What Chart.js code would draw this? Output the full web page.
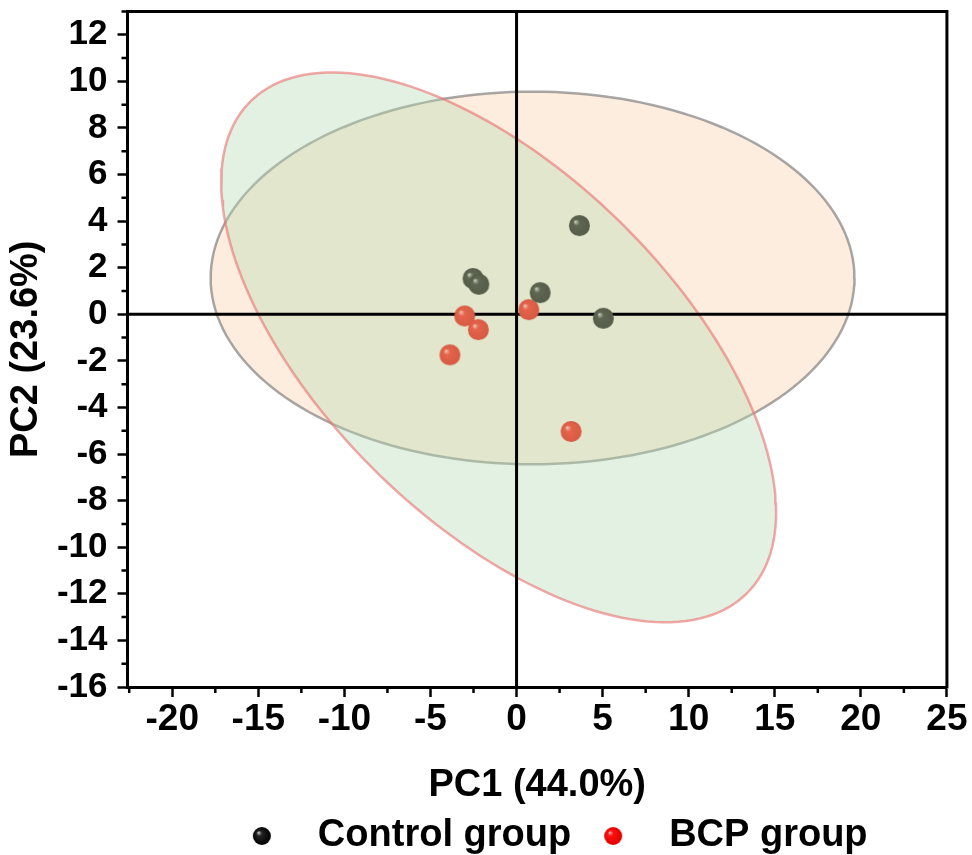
<!DOCTYPE html>
<html>
<head>
<meta charset="utf-8">
<title>PCA</title>
<script src="https://cdn.jsdelivr.net/npm/chart.js@4.4.1/dist/chart.umd.min.js"></script>
<style>
  html, body { margin: 0; padding: 0; background: #fff; }
</style>
</head>
<body>
<canvas id="pcaChart" width="972" height="855"></canvas>
<script>
// scores
var controlPC1 = [3.65, -2.53, -2.19, 1.37, 5.04];
var controlPC2 = [3.81, 1.54, 1.29, 0.93, -0.17];
var bcpPC1 = [-3.01, -2.22, -3.87, 0.71, 3.17];
var bcpPC2 = [-0.07, -0.66, -1.74, 0.20, -5.03];

// confidence ellipses: centre x, centre y, semi axis 1, semi axis 2, rotation (deg)
var controlEllipse = [0.93, 1.56, 18.7, 8.0, 0];
var bcpEllipse = [-1.04, -1.42, 18.13, 8.39, -31.1];

var groupNames = ["Control group", "BCP group"];
var xTicks = [-20, -15, -10, -5, 0, 5, 10, 15, 20, 25];
var yTicks = [-16, -14, -12, -10, -8, -6, -4, -2, 0, 2, 4, 6, 8, 10, 12];
var xTitle = "PC1 (44.0%)";
var yTitle = "PC2 (23.6%)";

var FONT = "'Liberation Sans', Arial, sans-serif";

function toPoints(xs, ys) {
  var out = [];
  for (var i = 0; i < xs.length; i++) out.push({x: xs[i], y: ys[i]});
  return out;
}

function ellipsePoints(e) {
  var pts = [];
  var rad = e[4] * Math.PI / 180;
  for (var i = 0; i <= 180; i++) {
    var t = i / 180 * 2 * Math.PI;
    var dx = e[2] * Math.cos(t), dy = e[3] * Math.sin(t);
    pts.push({
      x: e[0] + dx * Math.cos(rad) - dy * Math.sin(rad),
      y: e[1] + dx * Math.sin(rad) + dy * Math.cos(rad)
    });
  }
  return pts;
}

// little shaded ball used as marker
function sphere(r, light, base, edge) {
  var c = document.createElement('canvas');
  c.width = c.height = 2 * r + 2;
  var g = c.getContext('2d');
  var cx = r + 1, cy = r + 1;
  var grad = g.createRadialGradient(cx - r * 0.4, cy - r * 0.4, 0, cx, cy, r);
  grad.addColorStop(0, light);
  grad.addColorStop(0.3, base);
  grad.addColorStop(1, edge);
  g.fillStyle = grad;
  g.beginPath();
  g.arc(cx, cy, r, 0, 2 * Math.PI);
  g.fill();
  return c;
}

var controlBall = sphere(10.5, '#d2d6c4', '#5f6752', '#555c49');
var bcpBall = sphere(10.5, '#f3cdb8', '#e4644c', '#d85a43');
var controlKey = sphere(9, '#d0d0d0', '#222', '#000');
var bcpKey = sphere(9, '#ffc0c0', '#ff1010', '#e00000');

function setTicks(values) {
  return function (scale) {
    scale.ticks = values.map(function (v) { return {value: v}; });
  };
}

// zero lines go above the ellipses but under the balls
var zeroLines = {
  id: 'zeroLines',
  beforeDatasetDraw: function (chart, args) {
    if (args.index !== 1) return;
    var ctx = chart.ctx, a = chart.chartArea;
    var px = chart.scales.x.getPixelForValue(0);
    var py = chart.scales.y.getPixelForValue(0);
    ctx.save();
    ctx.strokeStyle = '#000';
    ctx.lineWidth = 3;
    ctx.beginPath();
    ctx.moveTo(px, a.top); ctx.lineTo(px, a.bottom);
    ctx.moveTo(a.left, py); ctx.lineTo(a.right, py);
    ctx.stroke();
    ctx.restore();
  }
};

// minor ticks + top/right frame
var frameTicks = {
  id: 'frameTicks',
  afterLayout: function (chart) {
    // legend sits a bit right of the plot centre in the original
    chart.legend.left += 9;
    chart.legend.right += 9;
  },
  afterDraw: function (chart) {
    var ctx = chart.ctx, a = chart.chartArea;
    var xs = chart.scales.x, ys = chart.scales.y;
    ctx.save();
    ctx.strokeStyle = '#000';
    ctx.lineWidth = 2.5;
    ctx.beginPath();
    for (var v = -22.5; v <= xs.max; v += 5) {
      var px = xs.getPixelForValue(v);
      ctx.moveTo(px, a.bottom); ctx.lineTo(px, a.bottom + 6);
    }
    for (var w = -15; w <= ys.max; w += 2) {
      var py = ys.getPixelForValue(w);
      ctx.moveTo(a.left, py); ctx.lineTo(a.left - 6, py);
    }
    ctx.stroke();
    ctx.lineWidth = 3;
    ctx.beginPath();
    ctx.moveTo(a.left - 1.5, a.top);
    ctx.lineTo(a.right, a.top);
    ctx.lineTo(a.right, a.bottom + 1.5);
    ctx.stroke();
    ctx.restore();
  }
};

var ctx = document.getElementById('pcaChart').getContext('2d');
var chart = new Chart(ctx, {
  type: 'scatter',
  data: {
    datasets: [
      {
        label: groupNames[0],
        data: toPoints(controlPC1, controlPC2),
        pointStyle: controlBall,
        pointRadius: 10
      },
      {
        label: groupNames[1],
        data: toPoints(bcpPC1, bcpPC2),
        pointStyle: bcpBall,
        pointRadius: 10
      },
      {
        type: 'line',
        label: 'bcp ellipse',
        data: ellipsePoints(bcpEllipse),
        pointRadius: 0,
        tension: 0,
        borderColor: 'rgba(235,110,110,0.6)',
        borderWidth: 2.5,
        backgroundColor: 'rgba(180,217,177,0.38)',
        fill: 'shape'
      },
      {
        type: 'line',
        label: 'control ellipse',
        data: ellipsePoints(controlEllipse),
        pointRadius: 0,
        tension: 0,
        borderColor: 'rgba(110,110,110,0.6)',
        borderWidth: 2.5,
        backgroundColor: 'rgba(250,207,172,0.38)',
        fill: 'shape'
      }
    ]
  },
  options: {
    responsive: false,
    animation: false,
    layout: { padding: { top: 11.5, right: 24, left: 0, bottom: 0 } },
    plugins: {
      tooltip: { enabled: false },
      legend: {
        position: 'bottom',
        fullSize: false,
        maxHeight: 43,
        labels: {
          usePointStyle: true,
          pointStyleWidth: 74,
          padding: 5,
          color: '#000',
          font: { family: FONT, size: 38, weight: 'bold' },
          generateLabels: function () {
            return [
              { text: groupNames[0], pointStyle: controlKey, fillStyle: '#000', strokeStyle: '#000', lineWidth: 0, hidden: false, datasetIndex: 0 },
              { text: groupNames[1], pointStyle: bcpKey, fillStyle: '#f00', strokeStyle: '#f00', lineWidth: 0, hidden: false, datasetIndex: 1 }
            ];
          }
        }
      }
    },
    scales: {
      x: {
        type: 'linear',
        min: -22.6,
        max: 25,
        afterBuildTicks: setTicks(xTicks),
        afterFit: function (scale) {
          scale.height = 125;
          scale.paddingTop = 0; scale.paddingBottom = 0;
        },
        ticks: {
          padding: 4.5,
          maxRotation: 0,
          autoSkip: false,
          color: '#000',
          font: { family: FONT, size: 37, weight: 'bold', lineHeight: 1 }
        },
        grid: { drawOnChartArea: false, drawTicks: true, tickLength: 10, tickWidth: 2.5, tickColor: '#000' },
        border: { display: true, color: '#000', width: 3 },
        title: {
          display: true,
          text: xTitle,
          color: '#000',
          padding: { top: 31, bottom: 7 },
          font: { family: FONT, size: 38, weight: 'bold', lineHeight: 1 }
        }
      },
      y: {
        type: 'linear',
        min: -16,
        max: 13,
        afterBuildTicks: setTicks(yTicks),
        afterFit: function (scale) {
          scale.width = 127.5;
          scale.paddingTop = 0; scale.paddingBottom = 0;
        },
        ticks: {
          padding: 10,
          autoSkip: false,
          color: '#000',
          font: { family: FONT, size: 35, weight: 'bold', lineHeight: 0.6 }
        },
        grid: { drawOnChartArea: false, drawTicks: true, tickLength: 10, tickWidth: 2.5, tickColor: '#000' },
        border: { display: true, color: '#000', width: 3 },
        title: {
          display: true,
          text: yTitle,
          color: '#000',
          padding: { top: 8, bottom: 0 },
          font: { family: FONT, size: 38, weight: 'bold', lineHeight: 1 }
        }
      }
    }
  },
  plugins: [zeroLines, frameTicks]
});
</script>
</body>
</html>
